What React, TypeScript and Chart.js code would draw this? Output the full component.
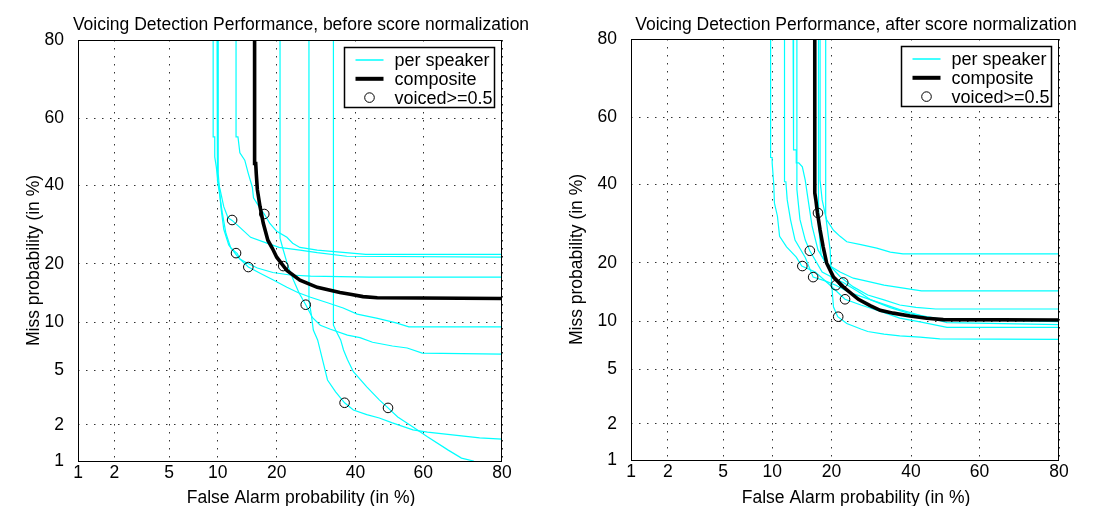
import React, { useEffect, useRef } from 'react';
import { Chart, registerables, Scale } from 'chart.js';

// ---------------- text ----------------
const TITLE_BEFORE = 'Voicing Detection Performance, before score normalization';
const TITLE_AFTER = 'Voicing Detection Performance, after score normalization';
const X_TITLE = 'False Alarm probability (in %)';
const Y_TITLE = 'Miss probability (in %)';
const LABEL_SPEAKER = 'per speaker';
const LABEL_COMPOSITE = 'composite';
const LABEL_VOICED = 'voiced>=0.5';

// ---------------- axes (percent, normal-deviate scale) ----------------
const TICK_VALUES = [1, 2, 5, 10, 20, 40, 60, 80];
const AXIS_MIN = 1;
const AXIS_MAX = 80;

// ---------------- data: [false alarm %, miss %] ----------------
// before score normalization
const before1 = [[9.4, 80], [9.4, 54.5], [9.6, 54.5], [9.6, 48.5], [9.8, 45.5], [10, 41.5], [10.3, 38.8], [10.8, 34], [11.4, 31], [12, 30.3], [13.2, 28.5], [15, 26], [18, 24.6], [20.5, 23.6], [25.2, 23], [29.5, 22.4], [37.5, 21.6], [80, 21.4]];
const before2 = [[12.6, 80], [12.6, 54.5], [12.9, 54.5], [13.2, 49.7], [14, 47.5], [14.6, 43.5], [15.3, 39.5], [15.5, 36.5], [16.5, 34], [17.5, 32], [18.6, 29.5], [20, 27.5], [22.2, 26], [23.5, 24.6], [25.2, 23.6], [29.5, 23], [43, 22], [80, 22]];
const before3 = [[9.9, 80], [9.9, 53.5], [9.95, 47.5], [10, 41.5], [10.3, 36.5], [10.6, 32.3], [11.1, 27], [11.8, 23.5], [12.8, 22.2], [13.2, 21], [14.3, 20.2], [16.2, 19.1], [19.2, 18.2], [22.9, 17.7], [27.8, 17.5], [44, 17.3], [80, 17.3]];
const before4 = [[10.05, 80], [10.05, 43.5], [10.4, 34], [10.8, 28], [11.5, 24.2], [12.9, 21.4], [14.6, 19.3], [16.8, 18], [19.2, 16.8], [22.2, 15.4], [24.7, 14.5], [27.8, 13.7], [32.2, 12.8], [36.5, 12], [40.5, 11.1], [46.5, 10.5], [52, 9.9], [55.8, 9.4], [80, 9.4]];
const before5 = [[20.7, 80], [20.7, 25.8], [21.4, 23], [22.5, 19.3], [23.7, 16.7], [25, 14.4], [26.6, 12.5], [28.3, 10.6], [30.3, 9.6], [33, 9.1], [37.7, 8.4], [41.3, 8.1], [45, 7.6], [50.9, 7.2], [55.3, 7], [59.7, 6.5], [80, 6.4]];
const before6 = [[27.4, 80], [27.4, 13.2], [28, 11], [28.5, 9], [29.6, 7.85], [31.1, 5.6], [32.2, 4.3], [34.4, 3.55], [36.9, 2.95], [39.4, 2.6], [43.3, 2.4], [47, 2.26], [50.9, 2.07], [57, 1.82], [61.2, 1.75], [70.5, 1.63], [75, 1.57], [80, 1.53]];
const before7 = [[33.8, 80], [33.8, 9.6], [34.4, 9], [35.8, 7.85], [36.6, 6.8], [37.7, 5.9], [39.4, 4.9], [43.3, 3.85], [47, 3.1], [49.6, 2.7], [52.5, 2.3], [57, 1.92], [61.2, 1.6], [67, 1.24], [70.5, 1.06], [73.5, 1.0], [75, 0.9]];
const beforeComposite = [[15.7, 80], [15.7, 46.5], [15.9, 46.5], [16, 43.5], [16.2, 38.8], [16.7, 34], [17.3, 29.6], [18.2, 25.3], [19.1, 23.4], [20, 21.4], [22.2, 18.6], [25.2, 16.7], [29.5, 15.4], [35.6, 14.5], [38.5, 14.2], [42.2, 13.8], [46.4, 13.6], [80, 13.5]];
const beforeVoiced = [[12.0, 30.4], [12.6, 22.3], [14.6, 19.3], [17.5, 32], [21.4, 19.5], [26.6, 12.5], [36.9, 2.95], [49.6, 2.7]];

// after score normalization
const after1 = [[9.8, 80], [9.8, 48], [10, 48], [10, 46.4], [10.2, 40.4], [10.3, 34.7], [10.7, 31.2], [11, 26], [12, 23.5], [13.5, 21.2], [14.4, 19.3], [16.8, 18.1], [19.7, 15.6], [22.9, 13.2], [26.6, 12.3], [31.8, 11.3], [36.8, 10.4], [42.6, 9.9], [50.5, 9.2], [80, 9.2]];
const after2 = [[11.7, 80], [11.7, 40.8], [11.9, 40.8], [12.1, 35.6], [12.6, 30.2], [13.3, 25.1], [15, 21.1], [16.4, 17.1], [18.7, 16.4], [20.9, 15.6], [24, 14.3], [29.1, 13.1], [36.8, 11.6], [42.6, 10.8], [50.5, 9.8], [80, 9.55]];
const after3 = [[13, 80], [13, 53], [13.1, 53], [13.1, 50.3], [13.5, 50.3], [13.5, 46.4], [13.9, 46.4], [14.5, 45.2], [15, 41.2], [15.5, 35.6], [16.2, 28.6], [17.3, 22.8], [18.7, 20.2], [20.4, 18.6], [21.8, 17.2], [24.8, 15.3], [28.3, 13.9], [32.5, 13.1], [36.8, 12.3], [41.4, 11.95], [47.2, 11.7], [80, 11.7]];
const after4 = [[13.6, 80], [13.6, 38.6], [14.1, 30.3], [15, 25.1], [15.8, 22.6], [18.1, 18.1], [20.7, 16.8], [22.5, 16.1], [26.6, 14.2], [29.1, 13.1], [34.2, 11.9], [39.8, 11], [48.4, 10.3], [80, 9.95]];
const after5 = [[18.8, 80], [18.8, 31.2], [19.7, 22.8], [20, 16], [20.4, 12], [21.3, 10.6], [23.3, 9.7], [26.6, 9], [28.3, 8.7], [32.5, 8.4], [36.8, 8.2], [42.6, 8.05], [48.4, 7.85], [80, 7.8]];
const after6 = [[17.4, 80], [17.4, 35.6], [17.5, 27.5], [17.9, 21.7], [18.7, 20.2], [19.7, 19.3], [21.8, 18.1], [24.8, 16.9], [28.3, 16.3], [32.5, 15.6], [43, 14.6], [80, 14.6]];
const after7 = [[17.7, 80], [17.7, 41.2], [18.1, 35.6], [18.7, 31.7], [19, 30.2], [20.4, 27.5], [21.8, 26], [23.3, 24.7], [26.6, 24], [30.6, 23.2], [34.2, 22.3], [37.7, 21.9], [80, 21.9]];
const afterComposite = [[16.7, 80], [16.7, 37.6], [16.9, 35.6], [17.2, 32], [17.7, 27.6], [18.3, 23.5], [19, 19.9], [20.4, 17.1], [22.5, 15.3], [26, 13.2], [28.9, 12.2], [31.5, 11.5], [35, 11.1], [39.7, 10.7], [44.5, 10.4], [49.4, 10.2], [80, 10.15]];
const afterVoiced = [[15.8, 22.6], [14.5, 19.3], [16.4, 17.1], [20.9, 15.6], [22.5, 16.1], [22.9, 13.2], [21.4, 10.6], [17.3, 32]];

// ---------------- styles ----------------
const FONT = "'Liberation Sans', Arial, Helvetica, sans-serif";
const CYAN = 'rgb(0,255,255)';

// ---------------- probit (normal deviate) scale ----------------
function invNorm(p: number): number {
  const a = [-3.969683028665376e1, 2.209460984245205e2, -2.759285104469687e2, 1.38357751867269e2, -3.066479806614716e1, 2.506628277459239];
  const b = [-5.447609879822406e1, 1.615858368580409e2, -1.556989798598866e2, 6.680131188771972e1, -1.328068155288572e1];
  const c = [-7.784894002430293e-3, -3.223964580411365e-1, -2.400758277161838, -2.549732539343734, 4.374664141464968, 2.938163982698783];
  const d = [7.784695709041462e-3, 3.224671290700398e-1, 2.445134137142996, 3.754408661907416];
  const plow = 0.02425;
  if (p <= 0) p = 1e-9;
  if (p >= 1) p = 1 - 1e-9;
  if (p < plow) {
    const q = Math.sqrt(-2 * Math.log(p));
    return (((((c[0] * q + c[1]) * q + c[2]) * q + c[3]) * q + c[4]) * q + c[5]) / ((((d[0] * q + d[1]) * q + d[2]) * q + d[3]) * q + 1);
  }
  if (p <= 1 - plow) {
    const q = p - 0.5;
    const r = q * q;
    return ((((((a[0] * r + a[1]) * r + a[2]) * r + a[3]) * r + a[4]) * r + a[5]) * q) / (((((b[0] * r + b[1]) * r + b[2]) * r + b[3]) * r + b[4]) * r + 1);
  }
  const q = Math.sqrt(-2 * Math.log(1 - p));
  return -(((((c[0] * q + c[1]) * q + c[2]) * q + c[3]) * q + c[4]) * q + c[5]) / ((((d[0] * q + d[1]) * q + d[2]) * q + d[3]) * q + 1);
}
function normCdf(z: number): number {
  const t = 1 / (1 + 0.2316419 * Math.abs(z));
  const dd = 0.3989423 * Math.exp((-z * z) / 2);
  const pr = dd * t * (0.3193815 + t * (-0.3565638 + t * (1.781478 + t * (-1.821256 + t * 1.330274))));
  return z > 0 ? 1 - pr : pr;
}
const zOf = (percent: number) => invNorm(percent / 100);

class ProbitScale extends Scale {
  static id = 'probit';
  static defaults = {};
  _lo = 0;
  _range = 1;
  determineDataLimits() {
    const o: any = this.options;
    this.min = typeof o.min === 'number' ? o.min : AXIS_MIN;
    this.max = typeof o.max === 'number' ? o.max : AXIS_MAX;
  }
  buildTicks() {
    return TICK_VALUES.map((v) => ({ value: v }));
  }
  getLabelForValue(v: number) {
    return String(v);
  }
  configure() {
    super.configure();
    this._lo = zOf(this.min);
    this._range = zOf(this.max) - this._lo;
  }
  getPixelForValue(v: number) {
    return this.getPixelForDecimal((zOf(v) - this._lo) / this._range);
  }
  getValueForPixel(px: number) {
    return 100 * normCdf(this._lo + this.getDecimalForPixel(px) * this._range);
  }
}

Chart.register(...registerables, ProbitScale as any);

// ---------------- decorations plugin: frame, titles, legend ----------------
const decorPlugin = {
  id: 'decor',
  afterDraw(chart: any, _args: any, opts: any) {
    const { ctx, chartArea: a } = chart;
    ctx.save();
    const L = Math.round(a.left) + 0.5;
    const T = Math.round(a.top) + 0.5;
    const R = Math.round(a.right) - 0.5;
    const B = Math.round(a.bottom) + 0.5;
    ctx.strokeStyle = '#000';
    ctx.lineWidth = 1;
    ctx.setLineDash([]);
    ctx.strokeRect(L, T, R - L, B - T);

    ctx.fillStyle = '#000';
    ctx.font = `17.5px ${FONT}`;
    ctx.textAlign = 'center';
    ctx.textBaseline = 'alphabetic';
    const cx = (a.left + a.right) / 2 + opts.shiftX;
    ctx.fillText(opts.title, cx, opts.titleY);
    ctx.fillText(X_TITLE, cx, opts.xTitleY);
    ctx.save();
    ctx.translate(opts.yTitleX, (a.top + a.bottom) / 2 + opts.shiftY);
    ctx.rotate(-Math.PI / 2);
    ctx.fillText(Y_TITLE, 0, 0);
    ctx.restore();

    // legend
    const seen: string[] = [];
    const entries: any[] = [];
    chart.data.datasets.forEach((ds: any) => {
      if (!seen.includes(ds.label)) {
        seen.push(ds.label);
        entries.push(ds);
      }
    });
    const bw = 150;
    const bh = 60;
    const bx = Math.round(a.right - 8 - bw) + 0.5;
    const by = Math.round(a.top + 7) + 0.5;
    ctx.fillStyle = '#fff';
    ctx.fillRect(bx, by, bw, bh);
    ctx.strokeStyle = '#000';
    ctx.lineWidth = 1.5;
    ctx.strokeRect(bx, by, bw, bh);
    ctx.font = `18px ${FONT}`;
    ctx.textAlign = 'left';
    ctx.textBaseline = 'middle';
    entries.forEach((ds, i) => {
      const y = by + 12.5 + i * 18.8;
      if (ds.showLine === false) {
        ctx.beginPath();
        ctx.strokeStyle = ds.borderColor;
        ctx.lineWidth = 1;
        ctx.arc(bx + 25, y, ds.pointRadius, 0, Math.PI * 2);
        ctx.stroke();
      } else {
        ctx.beginPath();
        ctx.strokeStyle = ds.borderColor;
        ctx.lineWidth = ds.borderWidth > 2 ? 4 : 1.5;
        ctx.moveTo(bx + 11, y);
        ctx.lineTo(bx + 39, y);
        ctx.stroke();
      }
      ctx.fillStyle = '#000';
      ctx.fillText(ds.label, bx + 50, y + 1);
    });
    ctx.restore();
  },
};

const toXY = (arr: number[][]) => arr.map(([x, y]) => ({ x, y }));

function buildDatasets(speakers: number[][][], composite: number[][], voiced: number[][]) {
  const ds: any[] = speakers.map((s) => ({
    label: LABEL_SPEAKER,
    data: toXY(s),
    borderColor: CYAN,
    borderWidth: 1.2,
    pointRadius: 0,
    fill: false,
    order: 3,
  }));
  ds.push({
    label: LABEL_COMPOSITE,
    data: toXY(composite),
    borderColor: '#000',
    borderWidth: 3.6,
    pointRadius: 0,
    fill: false,
    order: 2,
  });
  ds.push({
    label: LABEL_VOICED,
    data: toXY(voiced),
    showLine: false,
    borderColor: '#000',
    backgroundColor: 'rgba(0,0,0,0)',
    pointRadius: 4.8,
    pointBorderWidth: 1,
    pointStyle: 'circle',
    order: 1,
  });
  return ds;
}

type PanelProps = {
  left: number;
  width: number;
  height: number;
  padRight: number;
  padTop: number;
  yAxisWidth: number;
  xAxisHeight: number;
  title: string;
  yTitleX: number;
  speakers: number[][][];
  composite: number[][];
  voiced: number[][];
};

function Panel(p: PanelProps) {
  const ref = useRef<HTMLCanvasElement | null>(null);
  useEffect(() => {
    if (!ref.current) return;
    const tickFont = { family: FONT, size: 17.5 };
    const chart = new Chart(ref.current, {
      type: 'line',
      data: { datasets: buildDatasets(p.speakers, p.composite, p.voiced) },
      options: {
        animation: false,
        responsive: false,
        maintainAspectRatio: false,
        events: [],
        layout: { padding: { left: 0, right: p.padRight, top: p.padTop, bottom: 0 } },
        plugins: {
          legend: { display: false },
          tooltip: { enabled: false },
          title: { display: false },
          decor: { title: p.title, shiftX: 11, shiftY: 10, titleY: 29.5, xTitleY: 503, yTitleX: p.yTitleX },
        } as any,
        scales: {
          x: {
            type: 'probit' as any,
            position: 'bottom',
            min: AXIS_MIN,
            max: AXIS_MAX,
            afterFit: (s: any) => {
              s.height = p.xAxisHeight;
              s.paddingLeft = 0;
              s.paddingRight = 0;
            },
            grid: { color: '#333', lineWidth: 1, drawTicks: false },
            border: { display: false, dash: [1.5, 6.5] },
            ticks: { font: tickFont, color: '#000', padding: 2, maxRotation: 0, autoSkip: false, callback: (v: any) => String(v) },
          },
          y: {
            type: 'probit' as any,
            position: 'left',
            min: AXIS_MIN,
            max: AXIS_MAX,
            afterFit: (s: any) => {
              s.width = p.yAxisWidth;
              s.paddingTop = 0;
              s.paddingBottom = 0;
            },
            grid: { color: '#333', lineWidth: 1, drawTicks: false },
            border: { display: false, dash: [1.5, 6.5] },
            ticks: { font: tickFont, color: '#000', padding: 14, autoSkip: false, callback: (v: any) => String(v) },
          },
        } as any,
      },
      plugins: [decorPlugin as any],
    });
    return () => chart.destroy();
  }, []);
  return (
    <canvas
      ref={ref}
      width={p.width}
      height={p.height}
      style={{ position: 'absolute', left: p.left, top: 0, width: p.width, height: p.height }}
    />
  );
}

export default function App() {
  return (
    <div style={{ position: 'fixed', left: 0, top: 0, width: 1101, height: 506, background: '#fff', overflow: 'hidden' }}>
      <Panel
        left={0}
        width={550}
        height={506}
        padRight={48}
        padTop={40}
        yAxisWidth={78}
        xAxisHeight={45}
        title={TITLE_BEFORE}
        yTitleX={39}
        speakers={[before1, before2, before3, before4, before5, before6, before7]}
        composite={beforeComposite}
        voiced={beforeVoiced}
      />
      <Panel
        left={550}
        width={551}
        height={506}
        padRight={42}
        padTop={39}
        yAxisWidth={81}
        xAxisHeight={46}
        title={TITLE_AFTER}
        yTitleX={32}
        speakers={[after1, after2, after3, after4, after5, after6, after7]}
        composite={afterComposite}
        voiced={afterVoiced}
      />
    </div>
  );
}
